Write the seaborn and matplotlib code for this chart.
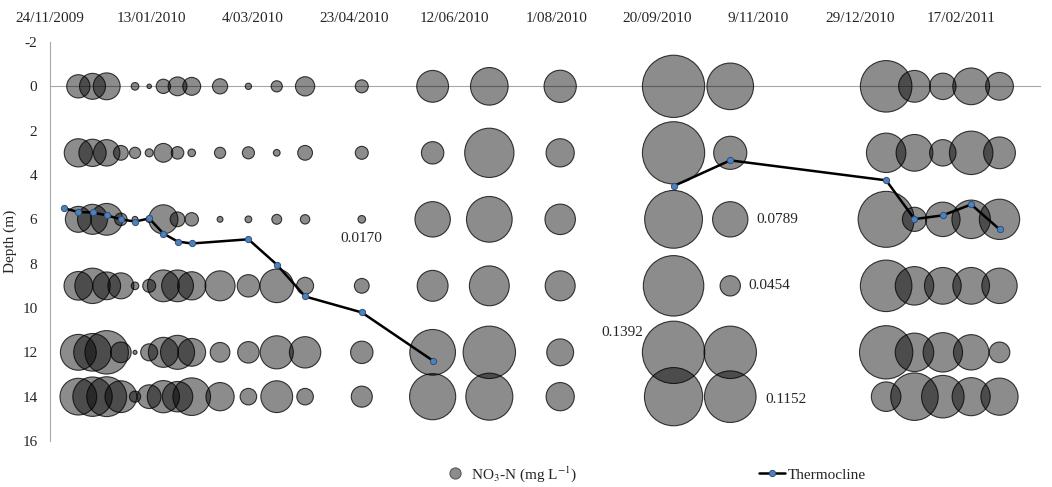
import numpy as np
import pandas as pd
import seaborn as sns
import matplotlib.pyplot as plt
from matplotlib.lines import Line2D

sns.set_style('white')
plt.rcParams['font.family'] = ['Liberation Serif', 'DejaVu Serif']
plt.rcParams['font.size'] = 11
plt.rcParams['mathtext.fontset'] = 'stix'
plt.rcParams['axes.unicode_minus'] = False

# -- sampling dates (d/mm/yyyy) --
sample_dates = ['8/12/2009', '15/12/2009', '22/12/2009', '29/12/2009', '5/01/2010', '12/01/2010',
                '19/01/2010', '26/01/2010', '2/02/2010', '16/02/2010', '2/03/2010', '16/03/2010',
                '30/03/2010', '27/04/2010', '1/06/2010', '29/06/2010', '3/08/2010', '28/09/2010',
                '26/10/2010', '11/01/2011', '25/01/2011', '8/02/2011', '22/02/2011', '8/03/2011']
depths = [0, 3, 6, 9, 12, 14]

# NO3-N (mg/L) at each depth, one value per sampling date
no3_0m = [0.052, 0.058, 0.060, np.nan, 0.017, 0.010, 0.032, 0.042, 0.040, 0.034, 0.014, 0.025,
          0.043, 0.029, 0.071, 0.084, 0.072, 0.139, 0.104, 0.115, 0.071, 0.059, 0.082, 0.062]
no3_3m = [0.063, 0.061, 0.059, 0.033, 0.025, 0.018, 0.042, 0.028, 0.017, 0.025, 0.027, 0.015,
          0.033, 0.029, 0.050, 0.110, 0.063, 0.139, 0.074, 0.088, 0.082, 0.059, 0.097, 0.071]
no3_6m = [0.058, 0.067, 0.071, 0.028, 0.013, 0.014, 0.065, 0.033, 0.030, 0.013, 0.015, 0.022,
          0.021, 0.0170, 0.079, 0.102, 0.068, 0.129, 0.0789, 0.125, 0.054, 0.077, 0.086, 0.090]
no3_9m = [0.064, 0.079, 0.062, 0.058, 0.017, 0.029, 0.071, 0.071, 0.063, 0.067, 0.050, 0.075,
          0.038, 0.033, 0.069, 0.089, 0.067, 0.135, 0.0454, 0.115, 0.086, 0.082, 0.082, 0.079]
no3_12m = [0.080, 0.084, 0.097, 0.046, 0.009, 0.038, 0.067, 0.076, 0.062, 0.044, 0.048, 0.074,
           0.070, 0.050, 0.102, 0.117, 0.060, 0.1392, 0.117, 0.119, 0.086, 0.088, 0.079, 0.046]
no3_14m = [0.082, 0.088, 0.089, 0.071, 0.025, 0.053, 0.072, 0.068, 0.084, 0.063, 0.037, 0.071,
           0.037, 0.047, 0.103, 0.105, 0.063, 0.130, 0.1152, 0.066, 0.106, 0.095, 0.085, 0.083]

# thermocline depth (NaN = no line drawn)
thermo_dates = ['1/12/2009', '8/12/2009', '15/12/2009', '22/12/2009', '29/12/2009', '5/01/2010',
                '12/01/2010', '19/01/2010', '26/01/2010', '2/02/2010', '2/03/2010', '16/03/2010',
                '30/03/2010', '27/04/2010', '1/06/2010', '3/08/2010', '28/09/2010', '26/10/2010',
                '11/01/2011', '25/01/2011', '8/02/2011', '22/02/2011', '8/03/2011']
thermo_depth = [5.50, 5.67, 5.69, 5.82, 6.00, 6.10, 5.96, 6.64, 7.00, 7.09, 6.90, 8.04,
                9.48, 10.20, 12.37, np.nan, 4.50, 3.34, 4.24, 5.99, 5.82, 5.33, 6.45]

tick_labels = ['24/11/2009', '13/01/2010', '4/03/2010', '23/04/2010', '12/06/2010',
               '1/08/2010', '20/09/2010', '9/11/2010', '29/12/2010', '17/02/2011']

# labelled bubbles: (text, date, depth, x offset pt, y offset pt, ha)
value_labels = [('0.0170', '27/04/2010', 6, 0, -14, 'center'),
                ('0.0789', '26/10/2010', 6, 19, 0, 'left'),
                ('0.0454', '26/10/2010', 9, 13, 0, 'left'),
                ('0.1392', '28/09/2010', 12, -22, 14, 'right'),
                ('0.1152', '26/10/2010', 14, 25, -2, 'left')]

# -- long table for seaborn --
series = [no3_0m, no3_3m, no3_6m, no3_9m, no3_12m, no3_14m]
rows = []
for d, vals in zip(depths, series):
    for dt, v in zip(sample_dates, vals):
        rows.append({'date': pd.to_datetime(dt, dayfirst=True), 'depth': d, 'no3': v})
df = pd.DataFrame(rows).dropna()
# Excel bubble width proportional to value -> marker area ~ value^2 (points^2)
df['area'] = (322.5 * df['no3']) ** 2
amin, amax = df['area'].min(), df['area'].max()

fig = plt.figure(figsize=(10.52, 4.87), dpi=100)
ax = fig.add_axes([50/1052, 46/487, 990/1052, 399/487])

sns.scatterplot(data=df, x='date', y='depth', size='area', sizes=(amin, amax),
                size_norm=(amin, amax), legend=False, ax=ax, zorder=2)
pts = ax.collections[0]
pts.set_facecolor((0, 0, 0, 0.45))
pts.set_edgecolor((0, 0, 0, 0.75))
pts.set_linewidth(0.8)

tdates = pd.to_datetime(thermo_dates, dayfirst=True)
ax.plot(tdates, thermo_depth, color='black', lw=1.8, marker='o', ms=4.5,
        mfc='#4f81bd', mec='#2f4f7a', mew=0.7, zorder=3)

for txt, dt, dep, ox, oy, ha in value_labels:
    ax.annotate(txt, xy=(pd.to_datetime(dt, dayfirst=True), dep), xytext=(ox, oy),
                textcoords='offset points', ha=ha, va='center', fontsize=11)

# axes
ax.set_xlim(pd.to_datetime('24/11/2009', dayfirst=True), pd.to_datetime('28/03/2011', dayfirst=True))
ax.set_ylim(16, -2)
ax.set_yticks(range(-2, 17, 2))
ax.set_xticks(pd.to_datetime(tick_labels, dayfirst=True))
ax.set_xticklabels(tick_labels)
ax.set_xlabel('')
ax.set_ylabel('Depth (m)', fontsize=11, labelpad=4)

for s in ['top', 'right']:
    ax.spines[s].set_visible(False)
ax.spines['left'].set_color('#a6a6a6')
ax.spines['bottom'].set_position(('data', 0))
ax.spines['bottom'].set_color('#a6a6a6')
ax.spines['bottom'].set_zorder(1)
ax.tick_params(axis='x', direction='in', length=3, color='#a6a6a6',
               labelbottom=False, labeltop=True, pad=12, labelsize=11)
ax.tick_params(axis='y', direction='out', length=3, color='#a6a6a6', pad=6, labelsize=11)

handles = [Line2D([], [], ls='none', marker='o', ms=8, mfc='#8c8c8c', mec='#595959', mew=0.8),
           Line2D([], [], color='black', lw=1.8, marker='o', ms=4.5, mfc='#4f81bd', mec='#2f4f7a', mew=0.7)]
fig.legend(handles, [r'NO$_3$-N (mg L$^{-1}$)', 'Thermocline'], loc='center',
           bbox_to_anchor=(654/1052, 1 - 474/487), ncol=2, frameon=False,
           columnspacing=11.9, handlelength=1.7, handletextpad=0.2, fontsize=11)

fig.savefig('out.png', dpi=100)
